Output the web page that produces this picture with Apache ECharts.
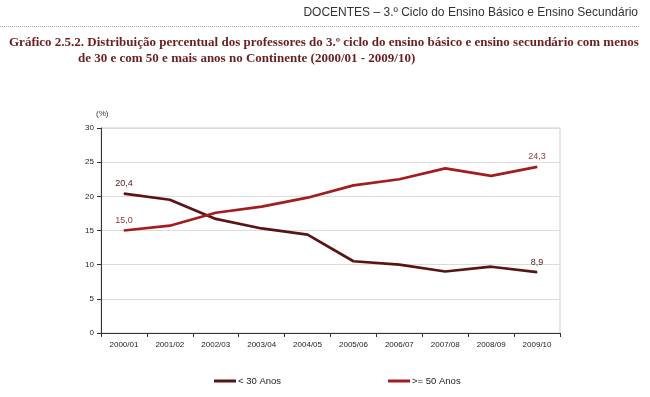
<!DOCTYPE html>
<html>
<head>
<meta charset="utf-8">
<script src="https://cdn.jsdelivr.net/npm/echarts@6/dist/echarts.min.js"></script>
<style>
  html, body { margin: 0; padding: 0; background: #fff; }
  #chart { width: 650px; height: 397px; }
</style>
</head>
<body>
<div id="chart"></div>
<script>
// dados do gráfico
var anos = ['2000/01', '2001/02', '2002/03', '2003/04', '2004/05', '2005/06', '2006/07', '2007/08', '2008/09', '2009/10'];
var menos30 = [20.4, 19.5, 16.7, 15.3, 14.4, 10.5, 10.0, 9.0, 9.7, 8.9];
var mais50 = [15.0, 15.7, 17.6, 18.5, 19.8, 21.6, 22.5, 24.1, 23.0, 24.3];
var yTicks = [0, 5, 10, 15, 20, 25, 30];

var corMenos30 = '#5a1414';
var corMais50 = '#a31c1f';

var myChart = echarts.init(document.getElementById('chart'));

function fmt(v) {
    return v.toFixed(1).replace('.', ',');
}

// só mostra rótulo no primeiro e último ponto
function labelEnds(p) {
    if (p.dataIndex === 0 || p.dataIndex === anos.length - 1) {
        return fmt(p.value);
    }
    return '';
}

var option = {
    animation: false,
    backgroundColor: '#fff',
    title: [{
        text: 'Gráfico 2.5.2. Distribuição percentual dos professores do 3.º ciclo do ensino básico e ensino secundário com menos',
        left: 9,
        top: 36,
        padding: 0,
        textStyle: {
            fontFamily: 'Liberation Serif',
            fontWeight: 'bold',
            fontSize: 13,
            color: '#6b1f1f'
        }
    }, {
        text: 'de 30 e com 50 e mais anos no Continente (2000/01 - 2009/10)',
        left: 78,
        top: 52,
        padding: 0,
        textStyle: {
            fontFamily: 'Liberation Serif',
            fontWeight: 'bold',
            fontSize: 13,
            color: '#6b1f1f'
        }
    }],
    graphic: [{
        type: 'text',
        right: 12,
        top: 7,
        style: {
            text: 'DOCENTES – 3.º Ciclo do Ensino Básico e Ensino Secundário',
            font: '12px "Liberation Sans", Arial, sans-serif',
            fill: '#333'
        }
    }, {
        type: 'line',
        shape: { x1: 0, y1: 26.5, x2: 640, y2: 26.5 },
        style: { stroke: '#aaa', lineWidth: 1, lineDash: [1, 1] }
    }, {
        type: 'text',
        left: 96,
        top: 110,
        style: {
            text: '(%)',
            font: '8px "Liberation Sans", Arial, sans-serif',
            fill: '#333'
        }
    }],
    legend: {
        bottom: 11,
        left: 214,
        padding: 0,
        itemGap: 107,
        itemWidth: 22,
        itemHeight: 3,
        icon: 'rect',
        textStyle: {
            fontFamily: 'Liberation Sans',
            fontSize: 9.5,
            color: '#222',
            padding: [0, 0, 0, -3]
        },
        data: ['< 30 Anos', '>= 50 Anos']
    },
    grid: {
        left: 101,
        right: 90,
        top: 128,
        bottom: 64,
        show: true,
        borderColor: '#cfcfcf',
        borderWidth: 1
    },
    xAxis: {
        type: 'category',
        data: anos,
        boundaryGap: true,
        axisLine: { lineStyle: { color: '#333', width: 1 } },
        axisTick: { show: true, inside: false, length: 4, lineStyle: { color: '#333' } },
        axisLabel: {
            fontFamily: 'Liberation Sans',
            fontSize: 8,
            color: '#222',
            margin: 8
        }
    },
    yAxis: {
        type: 'value',
        min: 0,
        max: 30,
        interval: 5,
        axisLine: { show: true, lineStyle: { color: '#333', width: 1 } },
        axisTick: { show: true, length: 4, lineStyle: { color: '#333' } },
        axisLabel: {
            fontFamily: 'Liberation Sans',
            fontSize: 8,
            color: '#222',
            margin: 7,
            formatter: function (v) {
                return yTicks.indexOf(v) >= 0 ? String(v) : '';
            }
        },
        splitLine: { lineStyle: { color: '#dcdcdc', width: 1 } }
    },
    series: [{
        name: '< 30 Anos',
        type: 'line',
        data: menos30,
        symbol: 'circle',
        symbolSize: 1,
        lineStyle: { color: corMenos30, width: 2.7 },
        itemStyle: { color: corMenos30 },
        label: {
            show: true,
            position: 'top',
            distance: 5,
            fontFamily: 'Liberation Sans',
            fontSize: 9,
            color: '#4a1a1a',
            formatter: labelEnds
        }
    }, {
        name: '>= 50 Anos',
        type: 'line',
        data: mais50,
        symbol: 'circle',
        symbolSize: 1,
        lineStyle: { color: corMais50, width: 2.7 },
        itemStyle: { color: corMais50 },
        label: {
            show: true,
            position: 'top',
            distance: 5,
            fontFamily: 'Liberation Sans',
            fontSize: 9,
            color: '#8b3a3a',
            formatter: labelEnds
        }
    }]
};

myChart.setOption(option);
window.addEventListener('resize', function () {
    myChart.resize();
});
</script>
</body>
</html>
